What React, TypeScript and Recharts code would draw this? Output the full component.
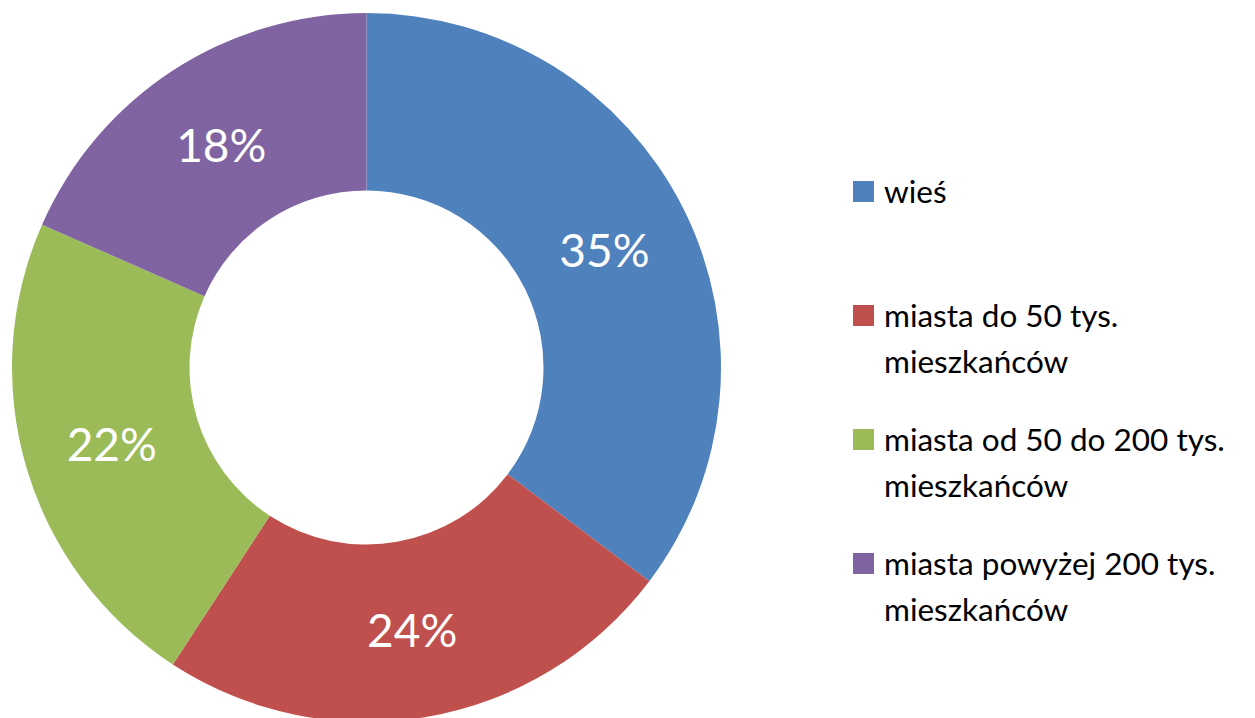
import React from "react";
import { PieChart, Pie, Cell, Legend } from "recharts";

const categories = [
  "wieś",
  "miasta do 50 tys. mieszkańców",
  "miasta od 50 do 200 tys. mieszkańców",
  "miasta powyżej 200 tys. mieszkańców",
];
const shares = [35.3, 23.9, 22.4, 18.4];
const colors = ["#4F81BD", "#C0504D", "#9BBB59", "#8064A2"];

const data = categories.map((name, i) => ({ name, value: shares[i] }));

const FONT = "Lato, 'Open Sans', sans-serif";
const RAD = Math.PI / 180;

const renderLabel = (props: any) => {
  const { cx, cy, midAngle, innerRadius, outerRadius, percent } = props;
  const r = (innerRadius + outerRadius) / 2;
  const x = cx + r * Math.cos(-midAngle * RAD);
  const y = cy + r * Math.sin(-midAngle * RAD);
  return (
    <text
      x={x}
      y={y}
      fill="#fff"
      textAnchor="middle"
      dominantBaseline="central"
      fontFamily={FONT}
      fontSize={46}
    >
      {Math.round(percent * 100) + "%"}
    </text>
  );
};

const renderLegend = () => {
  return (
    <div style={{ fontFamily: FONT, fontSize: 31.5, color: "#000" }}>
      {categories.map((name, i) => (
        <div
          key={name}
          style={{ display: "flex", alignItems: "flex-start", height: 124 }}
        >
          <div
            style={{
              width: 21,
              height: 21,
              marginTop: 13,
              marginRight: 10,
              background: colors[i],
              flexShrink: 0,
            }}
          />
          <div style={{ lineHeight: "46px", width: 368 }}>{name}</div>
        </div>
      ))}
    </div>
  );
};

export default function App() {
  return (
    <div style={{ position: "absolute", left: 0, top: 0, background: "#fff" }}>
      <PieChart width={1255} height={718} margin={{ top: 0, right: 0, bottom: 0, left: 0 }}>
        <Pie
          data={data}
          dataKey="value"
          nameKey="name"
          cx={366.5}
          cy={367.5}
          innerRadius={177}
          outerRadius={354.5}
          startAngle={90}
          endAngle={-270}
          stroke="none"
          label={renderLabel}
          labelLine={false}
          isAnimationActive={false}
        >
          {data.map((d, i) => (
            <Cell key={d.name} fill={colors[i]} />
          ))}
        </Pie>
        <Legend
          layout="vertical"
          verticalAlign="top"
          align="right"
          content={renderLegend}
          wrapperStyle={{ left: 853, top: 168, width: 400, right: "auto" }}
        />
      </PieChart>
    </div>
  );
}
